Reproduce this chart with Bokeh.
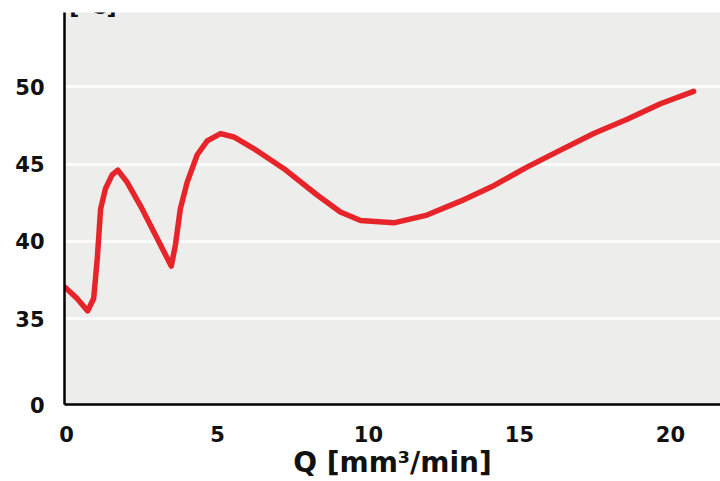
from bokeh.plotting import figure
from bokeh.models import FixedTicker, Range1d, Label
from bokeh.embed import file_html
from bokeh.resources import INLINE

# Data
q_values = [-0.03, 0.35, 0.7, 0.9, 1.02, 1.13, 1.29, 1.51, 1.7, 2.0, 2.45, 3.0, 3.47, 3.61, 3.77, 4.0,
            4.33, 4.66, 5.1, 5.54, 6.2, 7.2, 8.3, 9.07, 9.74, 10.84, 11.94, 13.05, 14.15, 15.25,
            16.36, 17.46, 18.57, 19.67, 20.77]
t_values = [37.0, 36.3, 35.5, 36.3, 38.9, 42.1, 43.4, 44.3, 44.6, 43.85, 42.3, 40.2, 38.4, 39.8, 42.1, 43.85,
            45.6, 46.5, 46.97, 46.75, 46.0, 44.7, 43.0, 41.9, 41.35, 41.2, 41.7, 42.6, 43.6, 44.8,
            45.9, 46.97, 47.9, 48.9, 49.7]

x_ticks = [0, 5, 10, 15, 20]
y_ticks = [35, 40, 45, 50]
y_break_pos = 29.45          # where the broken axis shows "0"
y_top = 54.8

x_label = "Q [mm³/min]"
y_label = "T vite [°C]"

font = "DejaVu Sans"

p = figure(width=720, height=481, output_backend="svg", toolbar_location=None,
           x_range=Range1d(-0.066, 21.66), y_range=Range1d(y_break_pos, y_top),
           min_border_left=64, min_border_right=0, min_border_top=12, min_border_bottom=76)

p.background_fill_color = "#ededeb"
p.border_fill_color = "white"
p.outline_line_color = None

p.line(q_values, t_values, line_color="#e8242b", line_width=5.5, line_join="round", line_cap="round")

# axes
p.xaxis.ticker = FixedTicker(ticks=x_ticks)
p.yaxis.ticker = FixedTicker(ticks=[y_break_pos] + y_ticks)
p.yaxis.major_label_overrides = {y_break_pos: "0"}
for ax in (p.xaxis[0], p.yaxis[0]):
    ax.axis_line_color = "black"
    ax.axis_line_width = 2.5
    ax.major_tick_line_color = None
    ax.minor_tick_line_color = None
    ax.major_label_text_font = font
    ax.major_label_text_font_style = "bold"
    ax.major_label_text_font_size = "21px"
    ax.major_label_text_color = "#111111"
p.yaxis.major_label_standoff = 14
p.xaxis.major_label_standoff = 15
p.xaxis.axis_label = x_label
p.xaxis.axis_label_text_font = font
p.xaxis.axis_label_text_font_style = "bold"
p.xaxis.axis_label_text_font_size = "28px"
p.xaxis.axis_label_text_color = "#111111"
p.xaxis.axis_label_standoff = 1

p.xgrid.grid_line_color = None
p.ygrid.ticker = FixedTicker(ticks=y_ticks)
p.ygrid.grid_line_color = "white"
p.ygrid.grid_line_width = 2.5

# partially cut-off y-axis title at the top-left
p.add_layout(Label(x=52, y=398, x_units="screen", y_units="screen", text=y_label,
                   text_align="right", text_baseline="alphabetic",
                   text_font=font, text_font_style="bold", text_font_size="22px",
                   text_color="#111111"))

open("out.html", "w").write(file_html(p, INLINE))
